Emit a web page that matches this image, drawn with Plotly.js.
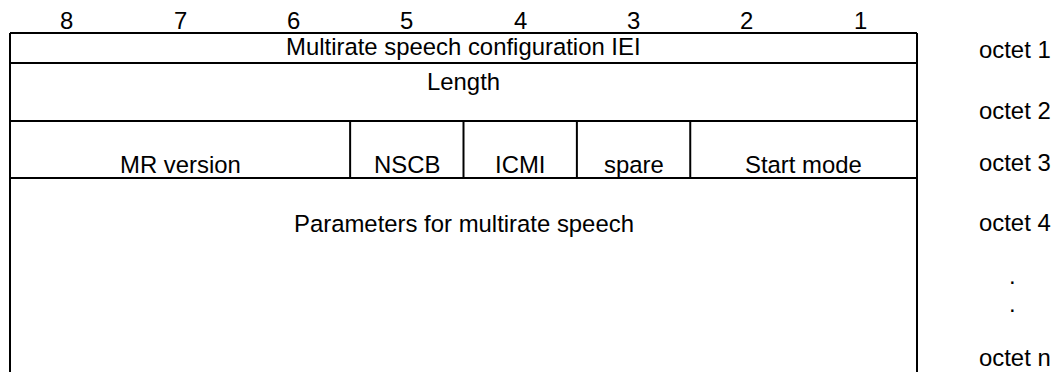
<!DOCTYPE html>
<html>
<head>
<meta charset="utf-8">
<script src="https://cdn.plot.ly/plotly-3.0.1.min.js"></script>
<style>
  html, body { margin: 0; padding: 0; background: #ffffff; }
  #chart { width: 1053px; height: 372px; }
</style>
</head>
<body>
<div id="chart"></div>
<script>
// ---- data ----
const bitLabels = ['8', '7', '6', '5', '4', '3', '2', '1'];

const fieldNames = ['Multirate speech configuration IEI', 'Length', 'MR version', 'NSCB', 'ICMI', 'spare', 'Start mode', 'Parameters for multirate speech'];
const fieldRow = [0, 1, 2, 2, 2, 2, 2, 3];
const fieldHighBit = [8, 8, 8, 5, 4, 3, 2, 8];
const fieldLowBit = [1, 1, 6, 5, 4, 3, 1, 1];

const octetLabels = ['octet 1', 'octet 2', 'octet 3', 'octet 4', '.', '.', 'octet n'];

// ---- layout (positions / styles) ----
const W = 1053, H = 372;
const bitWidthPx = 113.375, leftPx = 10;
const rowEdges = [33, 63, 121, 178];          // y of horizontal rules
const boxBottom = 380;                          // box continues below the picture
const headerY = 20;
const rowTextY = [46, 81, 164.5, 223.5];
const octetY = [49.5, 110, 162.5, 222.5, 275.7, 303.7, 357.7];
const octetIsDot = octetLabels.map(s => s === '.');
const octetX = 8.525;                           // in bit units
const dotX = 8.845;
const FONT = {family: 'Liberation Sans, Arial, sans-serif', size: 23.9, color: '#000000'};
const LINE = {color: '#000000', width: 2};

const shapes = [];
rowEdges.forEach(y => shapes.push({type: 'line', xref: 'x', yref: 'y', x0: 0, x1: 8, y0: y, y1: y, line: LINE}));
shapes.push({type: 'line', xref: 'x', yref: 'y', x0: 0, x1: 0, y0: rowEdges[0], y1: boxBottom, line: LINE});
shapes.push({type: 'line', xref: 'x', yref: 'y', x0: 8, x1: 8, y0: rowEdges[0], y1: boxBottom, line: LINE});

const annotations = [];
bitLabels.forEach((b, i) => annotations.push({
  xref: 'x', yref: 'y', x: i + 0.5, y: headerY, text: b, showarrow: false,
  xanchor: 'center', yanchor: 'middle', font: FONT
}));

fieldNames.forEach((name, i) => {
  const u0 = 8 - fieldHighBit[i];
  const u1 = 8 - fieldLowBit[i] + 1;
  const r = fieldRow[i];
  annotations.push({
    xref: 'x', yref: 'y', x: (u0 + u1) / 2, y: rowTextY[r], text: name, showarrow: false,
    xanchor: 'center', yanchor: 'middle', font: FONT
  });
  if (u0 > 0) {
    shapes.push({type: 'line', xref: 'x', yref: 'y', x0: u0, x1: u0, y0: rowEdges[r], y1: rowEdges[r + 1], line: LINE});
  }
});

octetLabels.forEach((lab, i) => annotations.push({
  xref: 'x', yref: 'y', x: octetIsDot[i] ? dotX : octetX, y: octetY[i], text: lab, showarrow: false,
  xanchor: octetIsDot[i] ? 'center' : 'left', yanchor: 'middle', font: FONT
}));

const layout = {
  width: W, height: H,
  margin: {l: 0, r: 0, t: 0, b: 0, pad: 0},
  paper_bgcolor: '#ffffff', plot_bgcolor: '#ffffff',
  showlegend: false,
  xaxis: {range: [-leftPx / bitWidthPx, (W - leftPx) / bitWidthPx], visible: false, fixedrange: true},
  yaxis: {range: [H, 0], visible: false, fixedrange: true},
  shapes: shapes,
  annotations: annotations,
  font: FONT
};

Plotly.newPlot('chart', [], layout, {displayModeBar: false, staticPlot: true});
</script>
</body>
</html>
